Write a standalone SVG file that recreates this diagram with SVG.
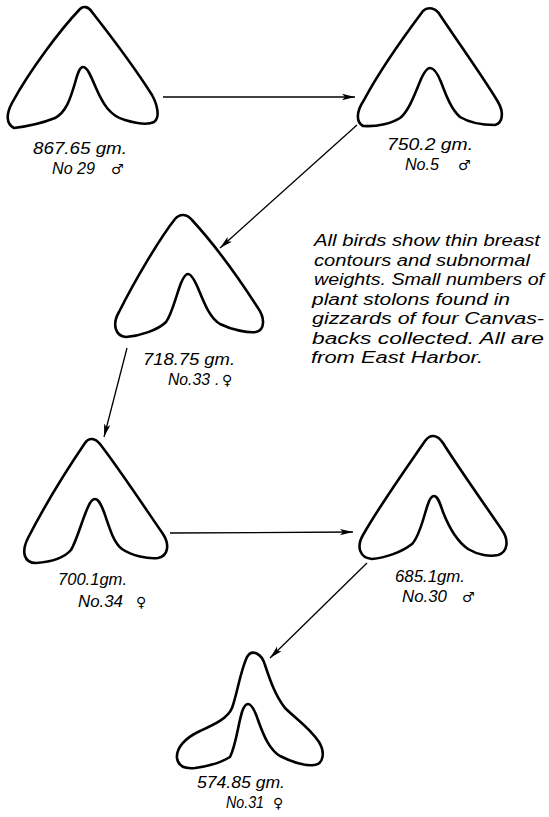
<svg xmlns="http://www.w3.org/2000/svg" width="549" height="817" viewBox="0 0 549 817">
  <style>
    .contour { fill: none; stroke: #000; stroke-width: 2.6; stroke-linejoin: round; stroke-linecap: round; }
    .link { fill: none; stroke: #000; stroke-width: 1.3; }
    .lbl { font-family: "Liberation Sans", Arial, sans-serif; font-style: italic; font-size: 16px; fill: #000; }
    .sym { font-family: "DejaVu Sans", sans-serif; font-size: 14px; fill: #000; }
    .note { font-family: "Liberation Sans", Arial, sans-serif; font-style: italic; font-size: 16px; fill: #000; }
  </style>
  <defs>
    <marker id="arrow" markerUnits="userSpaceOnUse" markerWidth="14" markerHeight="8" refX="13" refY="4" orient="auto">
      <path d="M0,0.8 L13,4 L0,7.2 L3,4 Z" fill="#000"/>
    </marker>
  </defs>

  <rect width="549" height="817" fill="#fff"/>

  <!-- connectors between successive specimens -->
  <g id="connectors">
    <line class="link" x1="163" y1="97" x2="355" y2="97" marker-end="url(#arrow)"/>
    <line class="link" x1="357" y1="125" x2="220" y2="248" marker-end="url(#arrow)"/>
    <line class="link" x1="127" y1="348" x2="104" y2="437" marker-end="url(#arrow)"/>
    <line class="link" x1="170" y1="533" x2="353" y2="532" marker-end="url(#arrow)"/>
    <line class="link" x1="367" y1="563" x2="270" y2="658" marker-end="url(#arrow)"/>
  </g>

  <!-- No. 29 -->
  <g id="bird-29">
    <path class="contour" d="M80,9 C60,30 30,70 12,103 C6,114 6,124 14,128 C30,126 45,122 55,118 C66,112 70,100 75,83 C78,72 80,67 83,67 C87,67 90,74 96,88 C103,104 110,116 125,120 C135,123 148,125 154,122 C160,118 158,106 152,95 C135,68 110,35 92,12 C88,6 83,6 80,9 Z"/>
    <text class="lbl" x="33" y="154" textLength="94" lengthAdjust="spacingAndGlyphs">867.65 gm.</text>
    <text class="lbl" x="52" y="174" textLength="43" lengthAdjust="spacingAndGlyphs">No 29</text>
    <text class="sym" x="111" y="174">♂</text>
  </g>

  <!-- No. 5 -->
  <g id="bird-5">
    <path class="contour" d="M423,11 C405,35 380,70 364,100 C356,112 356,122 363,126 C378,127 392,123 400,118 C410,110 416,90 422,77 C426,69 428,68 430,68 C434,68 437,72 441,82 C447,98 452,110 460,117 C470,123 485,125 495,125 C503,123 504,112 498,102 C485,80 460,45 440,15 C436,8 428,6 423,11 Z"/>
    <text class="lbl" x="387" y="150" textLength="86" lengthAdjust="spacingAndGlyphs">750.2 gm.</text>
    <text class="lbl" x="405" y="170" textLength="34" lengthAdjust="spacingAndGlyphs">No.5</text>
    <text class="sym" x="458" y="170">♂</text>
  </g>

  <!-- No. 33 -->
  <g id="bird-33">
    <path class="contour" d="M175,219 C160,238 135,280 119,312 C112,324 115,336 126,337 C140,336 158,330 166,322 C172,314 176,296 181,283 C184,276 186,274 188,274 C191,274 194,279 198,288 C205,305 210,318 220,324 C232,330 248,333 256,332 C265,330 265,318 258,308 C240,280 215,245 192,220 C187,214 180,213 175,219 Z"/>
    <text class="lbl" x="143" y="365" textLength="92" lengthAdjust="spacingAndGlyphs">718.75 gm.</text>
    <text class="lbl" x="168" y="385" textLength="42" lengthAdjust="spacingAndGlyphs">No.33</text>
    <text class="lbl" x="215" y="385">.</text>
    <text class="sym" x="222" y="385">♀</text>
  </g>

  <!-- No. 34 -->
  <g id="bird-34">
    <path class="contour" d="M85,443 C70,465 45,505 28,538 C21,552 24,563 36,563 C50,562 64,558 71,550 C77,540 82,520 88,507 C91,500 93,499 95,499 C98,499 100,502 104,512 C110,530 114,543 122,549 C132,556 148,559 158,558 C168,556 170,545 163,534 C145,508 120,470 100,444 C95,438 89,437 85,443 Z"/>
    <text class="lbl" x="58" y="585" textLength="69" lengthAdjust="spacingAndGlyphs">700.1gm.</text>
    <text class="lbl" x="78" y="607" textLength="45" lengthAdjust="spacingAndGlyphs">No.34</text>
    <text class="sym" x="136" y="607">♀</text>
  </g>

  <!-- No. 30 -->
  <g id="bird-30">
    <path class="contour" d="M425,441 C405,470 380,505 363,535 C356,547 360,558 372,559 C385,558 402,552 412,544 C420,536 424,515 428,504 C430,498 432,496 434,496 C437,496 439,500 443,512 C450,530 458,542 468,549 C478,555 490,557 498,555 C508,552 509,540 502,530 C485,505 460,470 443,443 C437,434 430,434 425,441 Z"/>
    <text class="lbl" x="395" y="582" textLength="70" lengthAdjust="spacingAndGlyphs">685.1gm.</text>
    <text class="lbl" x="402" y="602" textLength="45" lengthAdjust="spacingAndGlyphs">No.30</text>
    <text class="sym" x="462" y="602">♂</text>
  </g>

  <!-- No. 31 -->
  <g id="bird-31">
    <path class="contour" d="M247,657 C240,672 237,695 232,708 C228,718 215,724 200,731 C185,738 176,748 177,758 C178,766 185,769 195,768 C210,766 222,762 230,757 C236,745 238,725 242,712 C244,706 246,704 248,704 C251,704 254,708 258,720 C264,737 270,750 280,756 C292,762 305,766 314,765 C324,764 325,752 319,742 C310,728 295,718 285,708 C275,695 270,680 265,665 C262,654 252,648 247,657 Z"/>
    <text class="lbl" x="197" y="788" textLength="88" lengthAdjust="spacingAndGlyphs">574.85 gm.</text>
    <text class="lbl" x="226" y="808" textLength="38" lengthAdjust="spacingAndGlyphs">No.31</text>
    <text class="sym" x="273" y="808">♀</text>
  </g>

  <!-- explanatory note -->
  <g id="note">
    <text class="note" x="314" y="246" textLength="226" lengthAdjust="spacingAndGlyphs">All birds show thin breast</text>
    <text class="note" x="314" y="265.5" textLength="216" lengthAdjust="spacingAndGlyphs">contours and subnormal</text>
    <text class="note" x="314" y="285" textLength="230" lengthAdjust="spacingAndGlyphs">weights. Small numbers of</text>
    <text class="note" x="312" y="304.5" textLength="198" lengthAdjust="spacingAndGlyphs">plant stolons found in</text>
    <text class="note" x="312" y="324" textLength="232" lengthAdjust="spacingAndGlyphs">gizzards of four Canvas-</text>
    <text class="note" x="312" y="343.5" textLength="232" lengthAdjust="spacingAndGlyphs">backs collected. All are</text>
    <text class="note" x="311" y="363" textLength="172" lengthAdjust="spacingAndGlyphs">from East Harbor.</text>
  </g>
</svg>
